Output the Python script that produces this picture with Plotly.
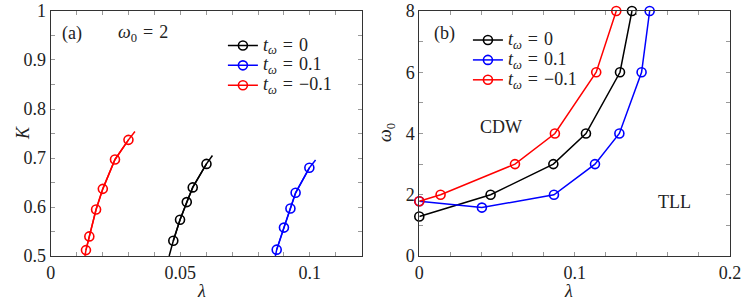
import plotly.graph_objects as go

# ---------------- data: panel (a) K vs lambda (omega0 = 2) ----------------
a_t0_lam = [0.0473, 0.0499, 0.0525, 0.0548, 0.0601]
a_t0_K = [0.531, 0.574, 0.610, 0.640, 0.688]
a_t0_line_lam = [0.0457, 0.0473, 0.0499, 0.0525, 0.0548, 0.0601, 0.0624]
a_t0_line_K = [0.500, 0.531, 0.574, 0.610, 0.640, 0.688, 0.705]

a_tp_lam = [0.0872, 0.0900, 0.0925, 0.0945, 0.0998]
a_tp_K = [0.513, 0.558, 0.597, 0.629, 0.680]
a_tp_line_lam = [0.0867, 0.0872, 0.0900, 0.0925, 0.0945, 0.0998, 0.1022]
a_tp_line_K = [0.500, 0.513, 0.558, 0.597, 0.629, 0.680, 0.696]

a_tm_lam = [0.0136, 0.0149, 0.0175, 0.0201, 0.0248, 0.0300]
a_tm_K = [0.512, 0.540, 0.595, 0.637, 0.697, 0.737]
a_tm_line_lam = [0.0132, 0.0136, 0.0149, 0.0175, 0.0201, 0.0248, 0.0300, 0.0325]
a_tm_line_K = [0.500, 0.512, 0.540, 0.595, 0.637, 0.697, 0.737, 0.754]

# ---------------- data: panel (b) phase diagram omega0 vs lambda ----------------
b_t0_lam = [0.0, 0.0459, 0.0863, 0.1073, 0.1292, 0.1369]
b_t0_w = [1.29, 2.0, 3.0, 4.0, 6.0, 8.0]
b_tp_lam = [0.0, 0.0403, 0.0867, 0.1131, 0.1288, 0.1431, 0.1483]
b_tp_w = [1.79, 1.58, 2.0, 3.0, 4.0, 6.0, 8.0]
b_tm_lam = [0.0, 0.0137, 0.0616, 0.0873, 0.1139, 0.1268]
b_tm_w = [1.79, 2.0, 3.0, 4.0, 6.0, 8.0]

SP = "\u2004"  # math-like spacing around "="
series_labels = ["<i>t</i><sub><i>ω</i></sub>" + SP + "=" + SP + "0",
                 "<i>t</i><sub><i>ω</i></sub>" + SP + "=" + SP + "0.1",
                 "<i>t</i><sub><i>ω</i></sub>" + SP + "=" + SP + "−0.1"]
colors = ["#000000", "#0000ff", "#ff0000"]

a_xticks = [0, 0.05, 0.1]
a_xticklabels = ["0", "0.05", "0.1"]
a_yticks = [0.5, 0.6, 0.7, 0.8, 0.9, 1.0]
a_yticklabels = ["0.5", "0.6", "0.7", "0.8", "0.9", "1"]
b_xticks = [0, 0.1, 0.2]
b_xticklabels = ["0", "0.1", "0.2"]
b_yticks = [0, 2, 4, 6, 8]
b_yticklabels = ["0", "2", "4", "6", "8"]

FONT = "Liberation Serif, Times New Roman, DejaVu Serif, serif"
FS = 18
LFS = 13     # legend base size (controls row spacing)
LTXT = 18    # legend visible text size

def legend_name(s):
    return '<span style="font-size:%dpx">%s</span>' % (LTXT, s)

fig = go.Figure()

a_sets = [(a_t0_lam, a_t0_K, a_t0_line_lam, a_t0_line_K),
          (a_tp_lam, a_tp_K, a_tp_line_lam, a_tp_line_K),
          (a_tm_lam, a_tm_K, a_tm_line_lam, a_tm_line_K)]
for (mx, my, lx, ly), name, c in zip(a_sets, series_labels, colors):
    fig.add_trace(go.Scatter(x=lx, y=ly, mode="lines", line=dict(color=c, width=1.5),
                             showlegend=False, hoverinfo="skip", xaxis="x", yaxis="y"))
    fig.add_trace(go.Scatter(x=mx, y=my, mode="lines+markers", name=legend_name(name),
                             line=dict(color=c, width=1.5),
                             marker=dict(symbol="circle-open", size=9, color=c, line=dict(width=1.6)),
                             legend="legend", xaxis="x", yaxis="y"))

b_sets = [(b_t0_lam, b_t0_w), (b_tp_lam, b_tp_w), (b_tm_lam, b_tm_w)]
for (bx, by), name, c in zip(b_sets, series_labels, colors):
    fig.add_trace(go.Scatter(x=bx, y=by, mode="lines+markers", name=legend_name(name),
                             line=dict(color=c, width=1.5),
                             marker=dict(symbol="circle-open", size=9, color=c, line=dict(width=1.6)),
                             legend="legend2", xaxis="x2", yaxis="y2", cliponaxis=False))

tick_common = dict(ticks="inside", ticklen=4, tickcolor="#999999", tickwidth=1,
                   showline=True, linecolor="#333333", linewidth=1, mirror="ticks",
                   showgrid=False, zeroline=False, automargin=False,
                   tickfont=dict(family=FONT, size=FS, color="#222"))

fig.update_layout(
    width=747, height=302,
    margin=dict(l=0, r=0, t=0, b=0),
    paper_bgcolor="white", plot_bgcolor="white",
    font=dict(family=FONT, size=FS, color="#222"),
    xaxis=dict(domain=[0.0679, 0.4842], range=[0, 0.12], tickvals=a_xticks, ticktext=a_xticklabels,
               minor=dict(ticks="inside", ticklen=4, tickcolor="#999999", dtick=0.01, tick0=0, showgrid=False),
               anchor="y", **tick_common),
    yaxis=dict(domain=[0.1523, 0.9636], range=[0.5, 1.0], tickvals=a_yticks, ticktext=a_yticklabels,
               minor=dict(ticks="inside", ticklen=4, tickcolor="#999999", dtick=0.05, tick0=0.5, showgrid=False),
               anchor="x", **tick_common),
    xaxis2=dict(domain=[0.5613, 0.9772], range=[0, 0.2], tickvals=b_xticks, ticktext=b_xticklabels,
                minor=dict(ticks="inside", ticklen=4, tickcolor="#999999", dtick=0.02, tick0=0, showgrid=False),
                anchor="y2", **tick_common),
    yaxis2=dict(domain=[0.1523, 0.9636], range=[0, 8], tickvals=b_yticks, ticktext=b_yticklabels,
                minor=dict(ticks="inside", ticklen=4, tickcolor="#999999", dtick=1, tick0=0, showgrid=False),
                anchor="x2", **tick_common),
    legend=dict(x=0.2984, y=0.899, xanchor="left", yanchor="top", bgcolor="rgba(0,0,0,0)",
                font=dict(family=FONT, size=LFS), itemwidth=30, tracegroupgap=0),
    legend2=dict(x=0.6264, y=0.917, xanchor="left", yanchor="top", bgcolor="rgba(0,0,0,0)",
                 font=dict(family=FONT, size=LFS), itemwidth=30, tracegroupgap=0),
    showlegend=True,
)

ann_font = dict(family=FONT, size=FS, color="#222")
# axis titles
fig.add_annotation(x=0.2624, y=0.0, xref="paper", yref="paper", text="<i>λ</i>",
                   showarrow=False, font=ann_font, yanchor="bottom", borderpad=0)
fig.add_annotation(x=0.7684, y=0.0, xref="paper", yref="paper", text="<i>λ</i>",
                   showarrow=False, font=ann_font, yanchor="bottom", borderpad=0)
fig.add_annotation(x=12 / 747, y=1 - 133 / 302, xref="paper", yref="paper", text="<i>K</i>",
                   showarrow=False, font=ann_font, textangle=-90, borderpad=0)
fig.add_annotation(x=387 / 747, y=1 - 133 / 302, xref="paper", yref="paper",
                   text="<i>ω</i><sub>0</sub>", showarrow=False, font=ann_font, textangle=-90, borderpad=0)
# panel labels and region names
fig.add_annotation(x=0.0082, y=0.955, xref="x", yref="y", text="(a)", showarrow=False, font=ann_font)
fig.add_annotation(x=0.0356, y=0.955, xref="x", yref="y",
                   text="<i>ω</i><sub>0</sub>" + SP + "=" + SP + "2", showarrow=False, font=ann_font)
fig.add_annotation(x=0.0165, y=7.27, xref="x2", yref="y2", text="(b)", showarrow=False, font=ann_font)
fig.add_annotation(x=0.0526, y=4.22, xref="x2", yref="y2", text="CDW", showarrow=False, font=ann_font)
fig.add_annotation(x=0.1646, y=1.75, xref="x2", yref="y2", text="TLL", showarrow=False, font=ann_font)

fig.write_html("out.html", config={"displayModeBar": False},
               post_script="document.body.style.margin='0';")
